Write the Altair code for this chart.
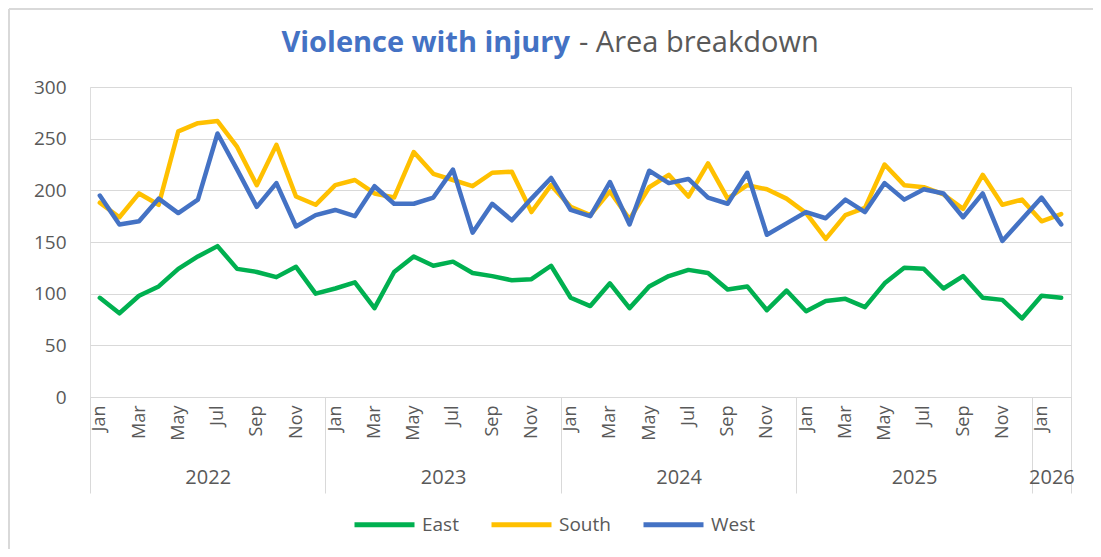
import altair as alt
import pandas as pd

# ---- data -------------------------------------------------------------
month_names = ["Jan", "Feb", "Mar", "Apr", "May", "Jun",
               "Jul", "Aug", "Sep", "Oct", "Nov", "Dec"]
years = [2022, 2023, 2024, 2025, 2026]
areas = ["East", "South", "West"]
area_colors = ["#00B050", "#FFC000", "#4472C4"]

east = [96, 81, 98, 107, 124, 136, 146, 124, 121, 116, 126, 100,
        105, 111, 86, 121, 136, 127, 131, 120, 117, 113, 114, 127,
        96, 88, 110, 86, 107, 117, 123, 120, 104, 107, 84, 103,
        83, 93, 95, 87, 110, 125, 124, 105, 117, 96, 94, 76,
        98, 96]
south = [188, 174, 197, 186, 257, 265, 267, 242, 205, 244, 194, 186,
         205, 210, 197, 193, 237, 216, 210, 204, 217, 218, 179, 205,
         184, 176, 199, 172, 203, 215, 194, 226, 192, 205, 201, 192,
         178, 153, 176, 183, 225, 205, 203, 196, 182, 215, 186, 191,
         170, 177]
west = [195, 167, 170, 192, 178, 191, 255, 220, 184, 207, 165, 176,
        181, 175, 204, 187, 187, 193, 220, 159, 187, 171, 192, 212,
        181, 175, 208, 167, 219, 207, 211, 193, 187, 217, 157, 168,
        179, 173, 191, 179, 207, 191, 201, 197, 174, 197, 151, 172,
        193, 167]

n = len(east)
rows = []
for series_name, vals in zip(areas, [east, south, west]):
    for i, v in enumerate(vals):
        rows.append({"idx": i, "month": month_names[i % 12],
                     "year": years[i // 12], "area": series_name, "value": v})
df = pd.DataFrame(rows)

# year group boundaries and centres (in month-index units)
bounds = [-0.5] + [12 * k - 0.5 for k in range(1, len(years))] + [n - 0.5]
centres = [(bounds[k] + bounds[k + 1]) / 2 for k in range(len(years))]
df_bounds = pd.DataFrame({"b": bounds})
df_centres = pd.DataFrame({"c": centres})

GRAY = "#595959"
LINE = "#d9d9d9"
FONT = "Open Sans"
W, H = 981, 310

xscale = alt.Scale(domain=[-0.5, n - 0.5], nice=False, zero=False)

month_expr = "[" + ",".join("'%s'" % m for m in month_names) + "][datum.value % 12]"
year_expr = "toString(%d + floor(datum.value / 12))" % years[0]

lines = alt.Chart(df).mark_line(strokeWidth=4.5, strokeJoin="round", strokeCap="round").encode(
    x=alt.X("idx:Q", scale=xscale,
            axis=alt.Axis(orient="bottom", title=None, values=list(range(0, n, 2)),
                          labelExpr=month_expr, labelAngle=270, ticks=False, domain=False,
                          grid=False, labelPadding=8, labelFontSize=18, labelColor=GRAY,
                          labelFont=FONT, labelOverlap=False, labelFlush=False, labelBound=False)),
    y=alt.Y("value:Q", scale=alt.Scale(domain=[0, 300], nice=False),
            axis=alt.Axis(title=None, values=[0, 50, 100, 150, 200, 250, 300], domain=False,
                          ticks=False, gridColor=LINE, gridWidth=1, labelPadding=24,
                          labelFontSize=19, labelColor=GRAY, labelFont=FONT)),
    color=alt.Color("area:N", scale=alt.Scale(domain=areas, range=area_colors),
                    legend=alt.Legend(orient="none", legendX=262, legendY=405,
                                      direction="horizontal", title=None,
                                      symbolType="stroke", symbolSize=3600,
                                      symbolStrokeWidth=5, labelFontSize=19,
                                      labelColor=GRAY, labelFont=FONT, labelOffset=5,
                                      columnPadding=22)),
    order=alt.Order("idx:Q"),
)

separators = alt.Chart(df_bounds).mark_point(opacity=0).encode(
    x=alt.X("b:Q", scale=xscale,
            axis=alt.Axis(orient="bottom", title=None, values=bounds, labels=False,
                          ticks=True, tickSize=96, tickColor=LINE, tickWidth=1,
                          domain=True, domainColor=LINE, domainWidth=1, grid=False))
)

year_axis = alt.Chart(df_centres).mark_point(opacity=0).encode(
    x=alt.X("c:Q", scale=xscale,
            axis=alt.Axis(orient="bottom", title=None, values=centres, labelExpr=year_expr,
                          ticks=False, domain=False, grid=False, labelPadding=70,
                          labelFontSize=20, labelColor=GRAY, labelFont=FONT,
                          labelOverlap=False, labelFlush=False, labelBound=False))
)

title_df = pd.DataFrame({"t1": ["Violence with injury"], "t2": ["- Area breakdown"]})
title_blue = alt.Chart(title_df).mark_text(
    align="right", baseline="alphabetic", font=FONT, fontSize=29, fontWeight="bold",
    color="#4472C4").encode(text="t1:N", x=alt.value(480), y=alt.value(-35))
title_gray = alt.Chart(title_df).mark_text(
    align="left", baseline="alphabetic", font=FONT, fontSize=29, color=GRAY, dx=9
).encode(text="t2:N", x=alt.value(480), y=alt.value(-35))

# light chart-area frame edges (decoration, as in the reference)
frame_left = alt.Chart(title_df).mark_rule(color=LINE, strokeWidth=2).encode(
    x=alt.value(-81), y=alt.value(-78), y2=alt.value(H + 200)
)
frame_top = alt.Chart(title_df).mark_rule(color=LINE, strokeWidth=2).encode(
    x=alt.value(-81), x2=alt.value(W + 40), y=alt.value(-78)
)

chart = alt.layer(frame_left, frame_top, lines, separators, year_axis,
                  title_blue, title_gray).resolve_axis(
    x="independent"
).properties(
    width=W, height=H,
    autosize=alt.AutoSizeParams(type="none"),
    padding={"left": 82, "top": 79, "right": 22, "bottom": 152},
).configure_view(stroke=None).configure(background="white")

chart.save("out.html", embed_options={"renderer": "svg", "actions": False})
